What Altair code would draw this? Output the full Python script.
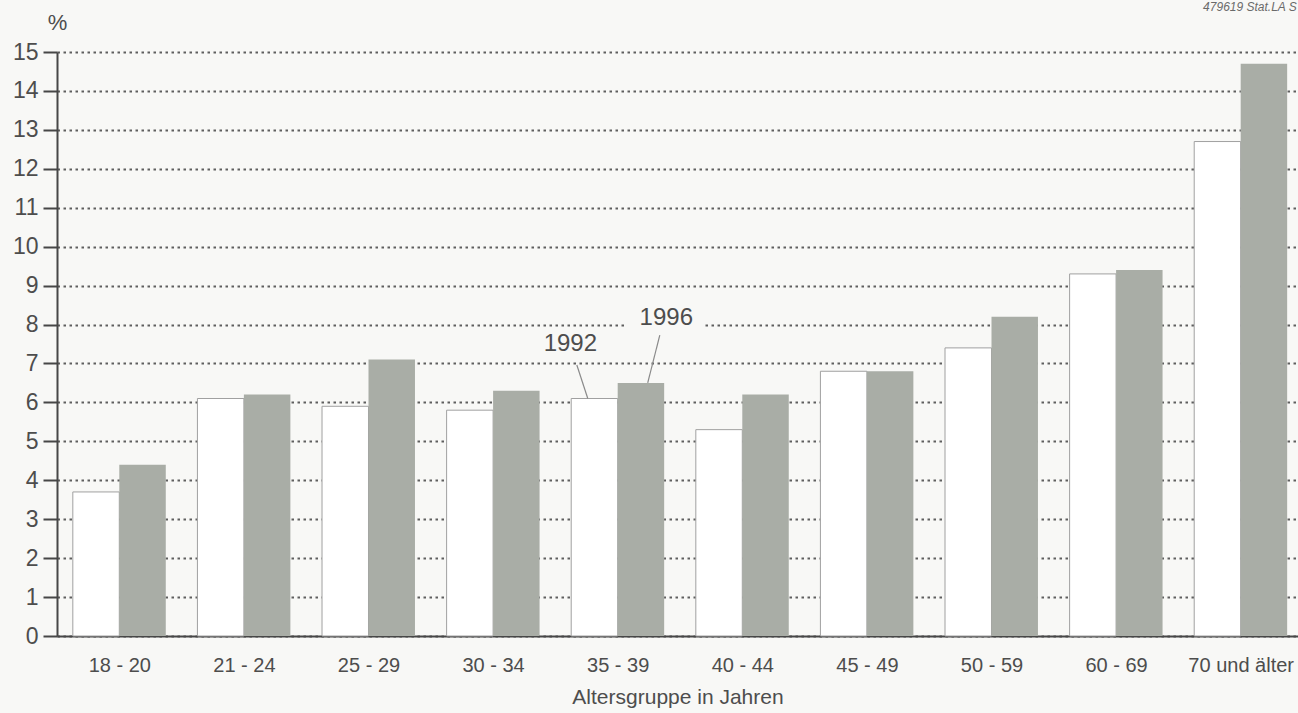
import json
import altair as alt
import pandas as pd

# Share of each age group (in %), survey years 1992 and 1996
age_groups = ["18 - 20", "21 - 24", "25 - 29", "30 - 34", "35 - 39",
              "40 - 44", "45 - 49", "50 - 59", "60 - 69", "70 und älter"]
share_1992 = [3.7, 6.1, 5.9, 5.8, 6.1, 5.3, 6.8, 7.4, 9.3, 12.7]
share_1996 = [4.4, 6.2, 7.1, 6.3, 6.5, 6.2, 6.8, 8.2, 9.4, 14.7]

# Year callouts: label position and leader line (data coordinates)
callout_text = ["1992", "1996"]
callout_x = [3.62, 4.39]
callout_y = [7.5, 8.17]
leader_x_from = [3.672, 4.338]
leader_y_from = [6.96, 7.73]
leader_x_to = [3.76, 4.241]
leader_y_to = [6.1, 6.5]

source_note = "479619 Stat.LA S"

BAR = 0.373          # half-width of a group, in group units
BG = "#f8f8f6"
TXT = "#4d4d4d"
AXIS = "#474747"
FONT = "Liberation Sans"

bars = pd.DataFrame(
    [{"g": i, "year": "1992", "x0": i - BAR, "x1": i, "v": v} for i, v in enumerate(share_1992)]
    + [{"g": i, "year": "1996", "x0": i, "x1": i + BAR, "v": v} for i, v in enumerate(share_1996)]
)
callouts = pd.DataFrame({"t": callout_text, "x": callout_x, "y": callout_y})
leaders = pd.DataFrame({"x": leader_x_from, "y": leader_y_from,
                        "x2": leader_x_to, "y2": leader_y_to})
note = pd.DataFrame({"t": [source_note], "x": [9.45], "y": [16.15]})
label_box = pd.DataFrame({"x": [4.07], "x2": [4.68], "y": [7.8], "y2": [8.2]})

x_scale = alt.Scale(domain=[-0.5, 9.46], nice=False, zero=False)
y_scale = alt.Scale(domain=[0, 15], nice=False)

label_expr = json.dumps(age_groups, ensure_ascii=False) + "[datum.value]"

x_axis = alt.Axis(
    values=list(range(len(age_groups))), labelExpr=label_expr,
    ticks=False, tickSize=0, grid=False, labelOverlap=False,
    domainColor=AXIS, domainWidth=2,
    labelFont=FONT, labelFontSize=20, labelColor=TXT,
    labelBaseline="alphabetic", labelPadding=35,
    title="Altersgruppe in Jahren", titleFont=FONT, titleFontSize=21,
    titleFontWeight="normal", titleColor=TXT,
    titleY=67, titleBaseline="alphabetic",
)
y_axis = alt.Axis(
    values=list(range(16)), grid=True, gridDash=[2.5, 3.5], gridColor="#5e5e5e",
    gridWidth=1.8, tickSize=14, tickColor=AXIS, tickWidth=2,
    domainColor=AXIS, domainWidth=2, labelOverlap=False,
    labelFont=FONT, labelFontSize=23, labelColor=TXT, labelPadding=5,
    title="%", titleAngle=0, titleX=0, titleY=-30, titleAlign="center",
    titleBaseline="middle", titleFont=FONT, titleFontSize=22,
    titleFontWeight="normal", titleColor=TXT,
)


def xq(field):
    return alt.X(field, scale=x_scale, axis=x_axis)


def yq(field):
    return alt.Y(field, scale=y_scale, axis=y_axis)


base = alt.Chart(bars)

bars_1992 = base.transform_filter(alt.datum.year == "1992").mark_rect(
    fill="#ffffff", stroke="#a0a0a0", strokeWidth=1
).encode(x=xq("x0:Q"), x2="x1:Q", y=yq("v:Q"), y2=alt.datum(0))

bars_1996 = base.transform_filter(alt.datum.year == "1996").mark_rect(
    fill="#a9ada6"
).encode(x=xq("x0:Q"), x2="x1:Q", y=yq("v:Q"), y2=alt.datum(0))

# plain patch behind the "1996" label so the grid line stops there
box = alt.Chart(label_box).mark_rect(fill=BG).encode(
    x=xq("x:Q"), x2="x2:Q", y=yq("y:Q"), y2="y2:Q",
)

leader_lines = alt.Chart(leaders).mark_rule(color="#8a8a8a", strokeWidth=1.2).encode(
    x=xq("x:Q"), x2="x2:Q", y=yq("y:Q"), y2="y2:Q",
)

callout_labels = alt.Chart(callouts).mark_text(
    font=FONT, fontSize=24, color=TXT, align="center", baseline="middle"
).encode(x=xq("x:Q"), y=yq("y:Q"), text="t:N")

note_label = alt.Chart(note).mark_text(
    font=FONT, fontSize=12, fontStyle="italic", color="#6a6a6a",
    align="right", baseline="middle", clip=False,
).encode(x=xq("x:Q"), y=yq("y:Q"), text="t:N")

chart = alt.layer(
    bars_1992, bars_1996, box, leader_lines, callout_labels, note_label
).properties(
    width=1241, height=584,
    autosize=alt.AutoSizeParams(type="none"),
    padding={"left": 57, "top": 52, "right": 0, "bottom": 77},
    background=BG,
).configure_view(stroke=None)

chart.save("out.html", embed_options={"renderer": "svg", "actions": False})
